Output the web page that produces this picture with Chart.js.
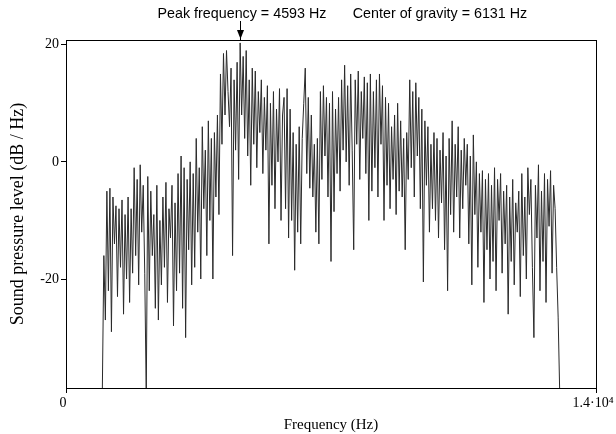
<!DOCTYPE html>
<html>
<head>
<meta charset="utf-8">
<script src="https://cdn.jsdelivr.net/npm/chart.js@4/dist/chart.umd.min.js"></script>
<style>
  html, body { margin: 0; padding: 0; background: #fff; }
  #wrap { width: 616px; height: 434px; }
</style>
</head>
<body>
<div id="wrap"><canvas id="chart" width="616" height="434"></canvas></div>
<script>
// spectrum bins: first bin frequency and bin spacing (Hz)
const freqStart = 960;
const freqStep = 40;

// sound pressure level per bin (dB/Hz)
const spl = [
  -39, -16, -27, -5, -22, -4.5, -29, -6, -14, -7.5, -23, -8, -18, -6.5, -26, -9, -20, -6, -24, -8,
  -19, -1, -16, -3, -21, -0.5, -12, -4, -19, -40, -2.5, -22, -5, -16, -9, -25, -4, -27, -10, -21,
  -6, -18, -3.5, -24, -8, -13, -4, -28, -7, -22, -2, -19, 1, -25, -1, -30, -3, -15, 0, -21,
  -2, -18, 4, -12, -1, -20, 6, -8, 2, -16, 7, -10, 4, -20, 5, -6, 8, -9, 15, 3,
  18.5, 8, 19, 12, 6, 16, -16, 14, 2, 17, -3, 20.3, 8, 18, 4, 19, 1, 14, -4, 16,
  3, 15.5, -1, 12, 5, 14, -2, 11, 2, 13, -14, 10, -4, 12, -8, 9, 0, 12.5, -10, 8,
  11, -8, 12.5, -13, 9, -10, 5, -18.5, 3, -12, 6, -14, 4, 10, 16, -2, 11, -4.5, 8, -6,
  3, -12, 4, -14, 12, -3, 13, 1, 11, -6, 10, -17, 12, -8.5, 9, -2, 11, -5, 14, 2,
  16.5, 0, 13, -4, 15, 2, -15, 14, 3, 15.5, -3, 12, 4, 14.5, -2, 13.5, -10, 15, -5, 12,
  -1, 14, -6, 15, 3, 13, -10, 11, -4, 10, -8, 6, -3, 8, -9, 10, -5, 7, -6, 4,
  -15, 5, -3, 14, -1, 12, -6, 13.5, 1, 11, -8, 9, -20.5, 7, -4, 6, -12, 3, -8, 5,
  -10, 4, -13, 2, -7, 5, -15, 1, -22, 4, -9, 7, -12, 3, -6, 6, -13, 2, -8, 4,
  -4, 3, -14, 1, -21, 4.6, -9, 0, -18, -2, -12, -1.5, -24, -3, -15, -2, -20, -4, -17, -1,
  -22, -3, -10, -2, -19, -5, -14, -4, -26, -6, -17, -3, -21, -7, -12, -5, -23, -2, -16, -6,
  -20, -1, -9, -3, -18, -30, -4, -13, -0.5, -22, -5, -17, -2, -24, -3, -11, -1.5, -19, -4, -8,
  -18, -26.5, -39
];

const freqs = spl.map((_, i) => freqStart + i * freqStep);
const points = spl.map((v, i) => ({ x: freqs[i], y: v }));

const xTicks = [0, 14000];
const yTicks = [-20, 0, 20];
const peakFreq = 4593;
const peakLabel = "Peak frequency = 4593 Hz";
const cogLabel = "Center of gravity = 6131 Hz";

const serif = "'Liberation Serif', 'Times New Roman', serif";
const sans = "'Liberation Sans', Arial, sans-serif";

const framePlugin = {
  id: "frame",
  afterDraw(chart) {
    const { ctx, chartArea: a, scales } = chart;
    ctx.save();
    ctx.strokeStyle = "#000";
    ctx.lineWidth = 1;
    ctx.strokeRect(Math.round(a.left) + 0.5, Math.round(a.top) + 0.5,
      Math.round(a.right - a.left), Math.round(a.bottom - a.top));

    // peak arrow
    const px = Math.round(scales.x.getPixelForValue(peakFreq)) + 0.5;
    ctx.beginPath();
    ctx.moveTo(px, 21);
    ctx.lineTo(px, a.top);
    ctx.stroke();
    ctx.fillStyle = "#000";
    ctx.beginPath();
    ctx.moveTo(px - 3.5, a.top - 10);
    ctx.lineTo(px + 3.5, a.top - 10);
    ctx.lineTo(px, a.top - 1);
    ctx.closePath();
    ctx.fill();

    // header labels
    ctx.font = "14.3px " + sans;
    ctx.textBaseline = "middle";
    ctx.textAlign = "center";
    ctx.fillText(peakLabel, 242, 14);
    ctx.fillText(cogLabel, 440, 14);
    ctx.restore();
  }
};

const chart = new Chart(document.getElementById("chart"), {
  type: "line",
  data: {
    datasets: [{
      data: points,
      borderColor: "#2a2a2a",
      borderWidth: 1,
      pointRadius: 0,
      tension: 0,
      fill: false
    }]
  },
  options: {
    responsive: false,
    animation: false,
    devicePixelRatio: 1,
    layout: { padding: { top: 40, right: 20, left: 0, bottom: 0 } },
    plugins: { legend: { display: false }, tooltip: { enabled: false } },
    scales: {
      x: {
        type: "linear",
        min: 0,
        max: 14000,
        afterBuildTicks: (s) => { s.ticks = xTicks.map((v) => ({ value: v })); },
        afterFit: (s) => { s.height = 46; s.paddingLeft = 0; s.paddingRight = 0; },
        grid: { display: true, drawOnChartArea: false, drawTicks: true, tickLength: 5, color: "#000" },
        border: { display: true, color: "#000" },
        ticks: {
          color: "#000",
          font: { family: serif, size: 14 },
          padding: 2,
          labelOffset: -3,
          maxRotation: 0,
          callback: (v) => (v === 0 ? "0" : "1.4\u00b710\u2074")
        },
        title: {
          display: true,
          text: "Frequency (Hz)",
          color: "#000",
          font: { family: serif, size: 15 },
          padding: { top: 0, bottom: 0 }
        }
      },
      y: {
        min: -38.6,
        max: 20.8,
        afterBuildTicks: (s) => { s.ticks = yTicks.map((v) => ({ value: v })); },
        afterFit: (s) => { s.width = 66; s.paddingTop = 0; s.paddingBottom = 0; },
        grid: { display: true, drawOnChartArea: false, drawTicks: true, tickLength: 5, color: "#000" },
        border: { display: true, color: "#000" },
        ticks: {
          color: "#000",
          font: { family: serif, size: 14 },
          padding: 2
        },
        title: {
          display: true,
          text: "Sound pressure level (dB / Hz)",
          color: "#000",
          font: { family: serif, size: 18 },
          padding: { top: 7, bottom: 0 }
        }
      }
    }
  },
  plugins: [framePlugin]
});
</script>
</body>
</html>
